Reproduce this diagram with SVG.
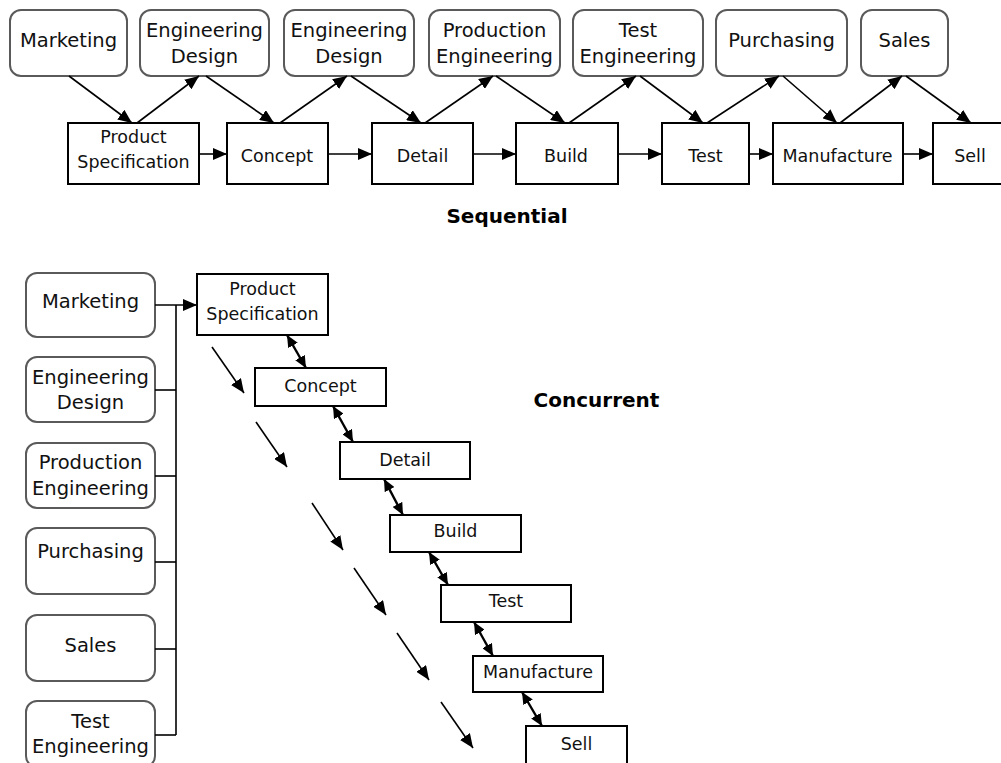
<svg xmlns="http://www.w3.org/2000/svg" width="1001" height="763" viewBox="0 0 1001 763">
  <style>
    .dept { fill: #ffffff; stroke: #5a5a5a; stroke-width: 2; }
    .step { fill: #ffffff; stroke: #000000; stroke-width: 2; }
    .lbl { font-family: "DejaVu Sans", "Liberation Sans", sans-serif; font-size: 19.5px; fill: #111; text-anchor: middle; }
    .slbl { font-family: "DejaVu Sans", "Liberation Sans", sans-serif; font-size: 17.5px; fill: #111; text-anchor: middle; }
    .title { font-family: "DejaVu Sans", "Liberation Sans", sans-serif; font-size: 20px; font-weight: bold; fill: #000; text-anchor: middle; }
    .link { stroke: #000; stroke-width: 1.6; fill: none; }
    .flow { stroke: #000; stroke-width: 1.6; fill: none; marker-end: url(#head); }
    .dbl { stroke: #000; stroke-width: 2.4; fill: none; marker-end: url(#small); marker-start: url(#small); }
  </style>
  <defs>
    <marker id="head" viewBox="0 0 14 12" refX="14" refY="6" markerWidth="14" markerHeight="12" markerUnits="userSpaceOnUse" orient="auto">
      <path d="M0,0 L14,6 L0,12 z" fill="#000"/>
    </marker>
    <marker id="small" viewBox="0 0 12 11" refX="12" refY="5.5" markerWidth="12" markerHeight="11" markerUnits="userSpaceOnUse" orient="auto-start-reverse">
      <path d="M0,0 L12,5.5 L0,11 z" fill="#000"/>
    </marker>
  </defs>
  <rect width="1001" height="763" fill="#ffffff"/>

  <!-- Sequential: departments -->
  <g id="seq-marketing"><rect class="dept" x="10" y="10" width="117" height="66" rx="11"/><text class="lbl" x="68.5" y="47">Marketing</text></g>
  <g id="seq-engdesign1"><rect class="dept" x="140" y="10" width="129" height="66" rx="11"/><text class="lbl" x="204.5" y="37">Engineering</text><text class="lbl" x="204.5" y="63">Design</text></g>
  <g id="seq-engdesign2"><rect class="dept" x="284" y="10" width="130" height="66" rx="11"/><text class="lbl" x="349" y="37">Engineering</text><text class="lbl" x="349" y="63">Design</text></g>
  <g id="seq-prodeng"><rect class="dept" x="429" y="10" width="131" height="66" rx="11"/><text class="lbl" x="494.5" y="37">Production</text><text class="lbl" x="494.5" y="63">Engineering</text></g>
  <g id="seq-testeng"><rect class="dept" x="573" y="10" width="130" height="66" rx="11"/><text class="lbl" x="638" y="37">Test</text><text class="lbl" x="638" y="63">Engineering</text></g>
  <g id="seq-purchasing"><rect class="dept" x="716" y="10" width="131" height="66" rx="11"/><text class="lbl" x="781.5" y="47">Purchasing</text></g>
  <g id="seq-sales"><rect class="dept" x="861" y="10" width="87" height="66" rx="11"/><text class="lbl" x="904.5" y="47">Sales</text></g>

  <!-- Sequential: steps -->
  <g id="seq-spec"><rect class="step" x="68" y="123" width="131" height="61"/><text class="slbl" x="133.5" y="143">Product</text><text class="slbl" x="133.5" y="168">Specification</text></g>
  <g id="seq-concept"><rect class="step" x="227" y="123" width="101" height="61"/><text class="slbl" x="277" y="162">Concept</text></g>
  <g id="seq-detail"><rect class="step" x="372" y="123" width="101" height="61"/><text class="slbl" x="422.5" y="162">Detail</text></g>
  <g id="seq-build"><rect class="step" x="516" y="123" width="102" height="61"/><text class="slbl" x="566" y="162">Build</text></g>
  <g id="seq-test"><rect class="step" x="662" y="123" width="87" height="61"/><text class="slbl" x="705.5" y="162">Test</text></g>
  <g id="seq-manufacture"><rect class="step" x="773" y="123" width="130" height="61"/><text class="slbl" x="837.5" y="162">Manufacture</text></g>
  <g id="seq-sell"><rect class="step" x="933" y="123" width="80" height="61"/><text class="slbl" x="970" y="162">Sell</text></g>

  <g id="seq-title"><text class="title" x="507" y="223">Sequential</text></g>

  <!-- Sequential connectors -->
  <g id="seq-connectors">
    <line class="flow" x1="69" y1="76" x2="132" y2="123"/>
    <line class="flow" x1="137" y1="123" x2="199" y2="76"/>
    <line class="flow" x1="206" y1="76" x2="274" y2="123"/>
    <line class="flow" x1="280" y1="123" x2="347" y2="76"/>
    <line class="flow" x1="351" y1="76" x2="421" y2="123"/>
    <line class="flow" x1="425" y1="123" x2="493" y2="76"/>
    <line class="flow" x1="496" y1="76" x2="565" y2="123"/>
    <line class="flow" x1="569" y1="123" x2="636" y2="76"/>
    <line class="flow" x1="640" y1="76" x2="703" y2="123"/>
    <line class="flow" x1="707" y1="123" x2="779" y2="76"/>
    <line class="flow" x1="783" y1="76" x2="837" y2="123"/>
    <line class="flow" x1="840" y1="123" x2="902" y2="76"/>
    <line class="flow" x1="906" y1="76" x2="971" y2="123"/>
    <line class="flow" x1="199" y1="154" x2="227" y2="154"/>
    <line class="flow" x1="328" y1="154" x2="372" y2="154"/>
    <line class="flow" x1="473" y1="154" x2="516" y2="154"/>
    <line class="flow" x1="618" y1="154" x2="662" y2="154"/>
    <line class="flow" x1="749" y1="154" x2="773" y2="154"/>
    <line class="flow" x1="903" y1="154" x2="933" y2="154"/>
  </g>

  <!-- Concurrent: departments -->
  <g id="con-marketing"><rect class="dept" x="26" y="273" width="129" height="64" rx="11"/><text class="lbl" x="90.5" y="308">Marketing</text></g>
  <g id="con-engdesign"><rect class="dept" x="26" y="357" width="129" height="65" rx="11"/><text class="lbl" x="90.5" y="384">Engineering</text><text class="lbl" x="90.5" y="409">Design</text></g>
  <g id="con-prodeng"><rect class="dept" x="26" y="443" width="129" height="65" rx="11"/><text class="lbl" x="90.5" y="469">Production</text><text class="lbl" x="90.5" y="495">Engineering</text></g>
  <g id="con-purchasing"><rect class="dept" x="26" y="528" width="129" height="66" rx="11"/><text class="lbl" x="90.5" y="558">Purchasing</text></g>
  <g id="con-sales"><rect class="dept" x="26" y="615" width="129" height="66" rx="11"/><text class="lbl" x="90.5" y="652">Sales</text></g>
  <g id="con-testeng"><rect class="dept" x="26" y="701" width="129" height="66" rx="11"/><text class="lbl" x="90.5" y="728">Test</text><text class="lbl" x="90.5" y="753">Engineering</text></g>

  <!-- Concurrent: steps -->
  <g id="con-spec"><rect class="step" x="197" y="274" width="131" height="61"/><text class="slbl" x="262.5" y="295">Product</text><text class="slbl" x="262.5" y="320">Specification</text></g>
  <g id="con-concept"><rect class="step" x="255" y="368" width="131" height="38"/><text class="slbl" x="320.5" y="392">Concept</text></g>
  <g id="con-detail"><rect class="step" x="340" y="442" width="130" height="37"/><text class="slbl" x="405" y="466">Detail</text></g>
  <g id="con-build"><rect class="step" x="390" y="515" width="131" height="37"/><text class="slbl" x="455.5" y="537">Build</text></g>
  <g id="con-test"><rect class="step" x="441" y="585" width="130" height="37"/><text class="slbl" x="506" y="607">Test</text></g>
  <g id="con-manufacture"><rect class="step" x="473" y="656" width="130" height="36"/><text class="slbl" x="538" y="678">Manufacture</text></g>
  <g id="con-sell"><rect class="step" x="526" y="726" width="101" height="40"/><text class="slbl" x="576.5" y="750">Sell</text></g>

  <g id="con-title"><text class="title" x="596.5" y="407">Concurrent</text></g>

  <!-- Concurrent connectors -->
  <g id="con-connectors">
    <line class="link" x1="176" y1="305" x2="176" y2="735"/>
    <line class="link" x1="155" y1="390" x2="176" y2="390"/>
    <line class="link" x1="155" y1="476" x2="176" y2="476"/>
    <line class="link" x1="155" y1="562" x2="176" y2="562"/>
    <line class="link" x1="155" y1="649" x2="176" y2="649"/>
    <line class="link" x1="155" y1="735" x2="176" y2="735"/>
    <line class="flow" x1="155" y1="305" x2="197" y2="305"/>

    <line class="dbl" x1="287" y1="335" x2="306" y2="368"/>
    <line class="dbl" x1="333" y1="406" x2="353" y2="442"/>
    <line class="dbl" x1="384" y1="479" x2="403" y2="515"/>
    <line class="dbl" x1="429" y1="552" x2="448" y2="585"/>
    <line class="dbl" x1="474" y1="622" x2="493" y2="656"/>
    <line class="dbl" x1="522" y1="692" x2="542" y2="726"/>

    <line class="flow" x1="212" y1="347" x2="244" y2="393"/>
    <line class="flow" x1="256" y1="422" x2="287" y2="467"/>
    <line class="flow" x1="312" y1="503" x2="343" y2="550"/>
    <line class="flow" x1="354" y1="568" x2="386" y2="615"/>
    <line class="flow" x1="397" y1="633" x2="429" y2="680"/>
    <line class="flow" x1="441" y1="702" x2="473" y2="748"/>
  </g>
</svg>
